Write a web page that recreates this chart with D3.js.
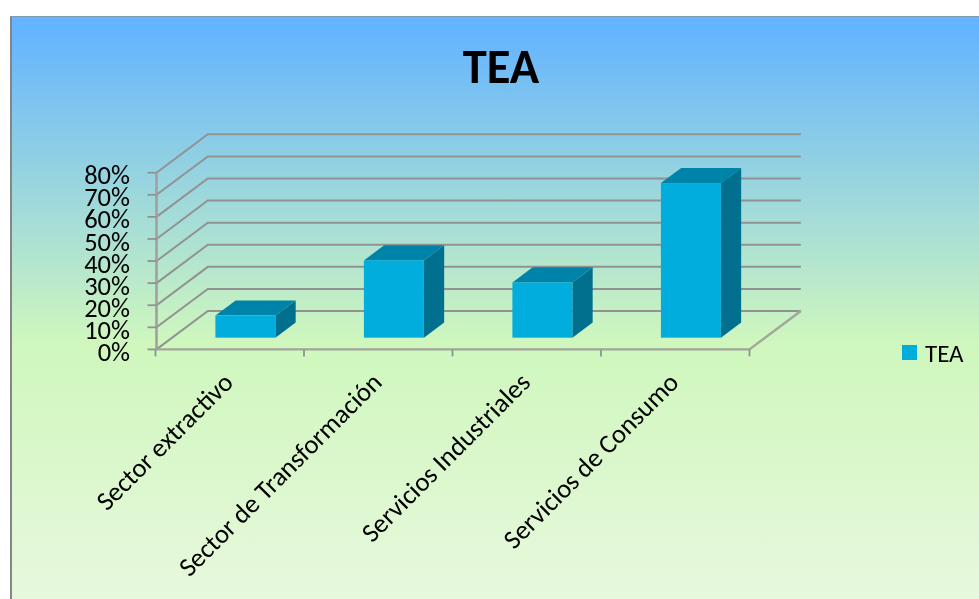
<!DOCTYPE html>
<html><head><meta charset="utf-8">
<script src="https://cdn.jsdelivr.net/npm/d3@7/dist/d3.min.js"></script>
<style>html,body{margin:0;padding:0;background:#fff}svg{display:block}</style></head>
<body><div id="c"></div>
<script>
const categories=["Sector extractivo","Sector de Transformación","Servicios Industriales","Servicios de Consumo"];
const values=[10,35,25,70];
const ticks=[0,10,20,30,40,50,60,70,80];
const seriesName="TEA";
const W=979,H=599;
const svg=d3.select("#c").append("svg").attr("width",W).attr("height",H);
const font="Calibri, Carlito, 'Open Sans', sans-serif";
const defs=svg.append("defs");
const g=defs.append("linearGradient").attr("id","bg").attr("x1",0).attr("y1",0).attr("x2",0).attr("y2",1);
[[0,"#64b4ff"],[0.02,"#64b4ff"],[0.56,"#cff7bd"],[1,"#e7f8dd"]].forEach(s=>g.append("stop").attr("offset",s[0]).attr("stop-color",s[1]));
defs.append("filter").attr("id","soft").append("feGaussianBlur").attr("stdDeviation",0.5);
defs.append("filter").attr("id","softText").append("feGaussianBlur").attr("stdDeviation",0.3);
svg.append("rect").attr("x",12).attr("y",17).attr("width",W-12).attr("height",H-17).attr("fill","url(#bg)");
svg.append("rect").attr("x",10).attr("y",16).attr("width",2).attr("height",H-16).attr("fill","#868686");
svg.append("rect").attr("x",10).attr("y",16).attr("width",W-10).attr("height",1).attr("fill","#7f9ab5");

const x=d3.scaleBand().domain(categories).range([155.5,749.5]);
const y=d3.scaleLinear().domain([0,80]).range([349.4,172.7]);
const dx=51.3,dy=38.4;
const barDepth=0.305, barDepthEnd=0.70;
const bw=60;
const chart=svg.append("g").attr("filter","url(#soft)");
const grid="#929292";
chart.selectAll("path.grid").data(ticks).join("path").attr("class","grid")
 .attr("d",t=>`M${x.range()[0]+1},${y(t)}l${dx},${-dy}H${x.range()[1]+dx}`)
 .attr("fill","none").attr("stroke",grid).attr("stroke-width",2);
chart.append("path").attr("d",`M${x.range()[0]+1},${y(0)}H${x.range()[1]}l${dx},${-dy}`).attr("fill","none").attr("stroke","#a3a79b").attr("stroke-width",2.4);
chart.append("line").attr("x1",x.range()[0]+1).attr("x2",x.range()[0]+1).attr("y1",y(0)).attr("y2",y(80)).attr("stroke","#a0a0a0").attr("stroke-width",2.6);
chart.selectAll("line.yt").data(ticks).join("line").attr("x1",x.range()[0]-8).attr("x2",x.range()[0]+1).attr("y1",t=>y(t)).attr("y2",t=>y(t)).attr("stroke",grid).attr("stroke-width",1.8);
const xEdges=categories.map(c=>x(c)).concat(x.range()[1]);
chart.selectAll("line.xt").data(xEdges).join("line").attr("x1",d=>d).attr("x2",d=>d).attr("y1",y(0)).attr("y2",y(0)+7).attr("stroke",grid).attr("stroke-width",1.8);
const bars=chart.selectAll("g.bar").data(categories).join("g").attr("class","bar");
const ox=dx*barDepth, oy=dy*barDepth, bdx=dx*(barDepthEnd-barDepth), bdy=dy*(barDepthEnd-barDepth);
bars.each(function(c,i){
 const s=d3.select(this);
 const l=x(c)+x.bandwidth()/2-bw/2+ox, r=l+bw, b=y(0)-oy, t=y(values[i])-oy;
 s.append("path").attr("d",`M${r},${b}V${t}l${bdx},${-bdy}V${b-bdy}Z`).attr("fill","#006f8e");
 s.append("path").attr("d",`M${l},${t}H${r}l${bdx},${-bdy}H${l+bdx}Z`).attr("fill","#0083a8");
 s.append("rect").attr("x",l).attr("y",t).attr("width",bw).attr("height",b-t).attr("fill","#00addc");
});
const labels=svg.append("g").attr("filter","url(#softText)");
labels.selectAll("text.yl").data(ticks).join("text").attr("class","yl")
 .attr("x",130).attr("y",t=>y(t)+2).attr("dy","0.36em").attr("text-anchor","end")
 .attr("font-family",font).attr("font-size",26.5).attr("fill","#000").text(t=>t+"%");
labels.selectAll("text.xl").data(categories).join("text").attr("class","xl")
 .attr("transform",c=>`translate(${x(c)+x.bandwidth()/2+5},${384}) rotate(-45)`)
 .attr("text-anchor","end").attr("font-family",font).attr("font-size",26.5).attr("fill","#000").text(c=>c);
labels.append("text").attr("x",501).attr("y",83).attr("text-anchor","middle").attr("font-family",font).attr("font-size",48.5).attr("font-weight","bold").attr("fill","#000").text(seriesName);
svg.append("rect").attr("x",902).attr("y",345).attr("width",15).attr("height",15).attr("fill","#00addc");
labels.append("text").attr("x",925).attr("y",362).attr("font-family",font).attr("font-size",25).attr("fill","#000").text(seriesName);
</script></body></html>
